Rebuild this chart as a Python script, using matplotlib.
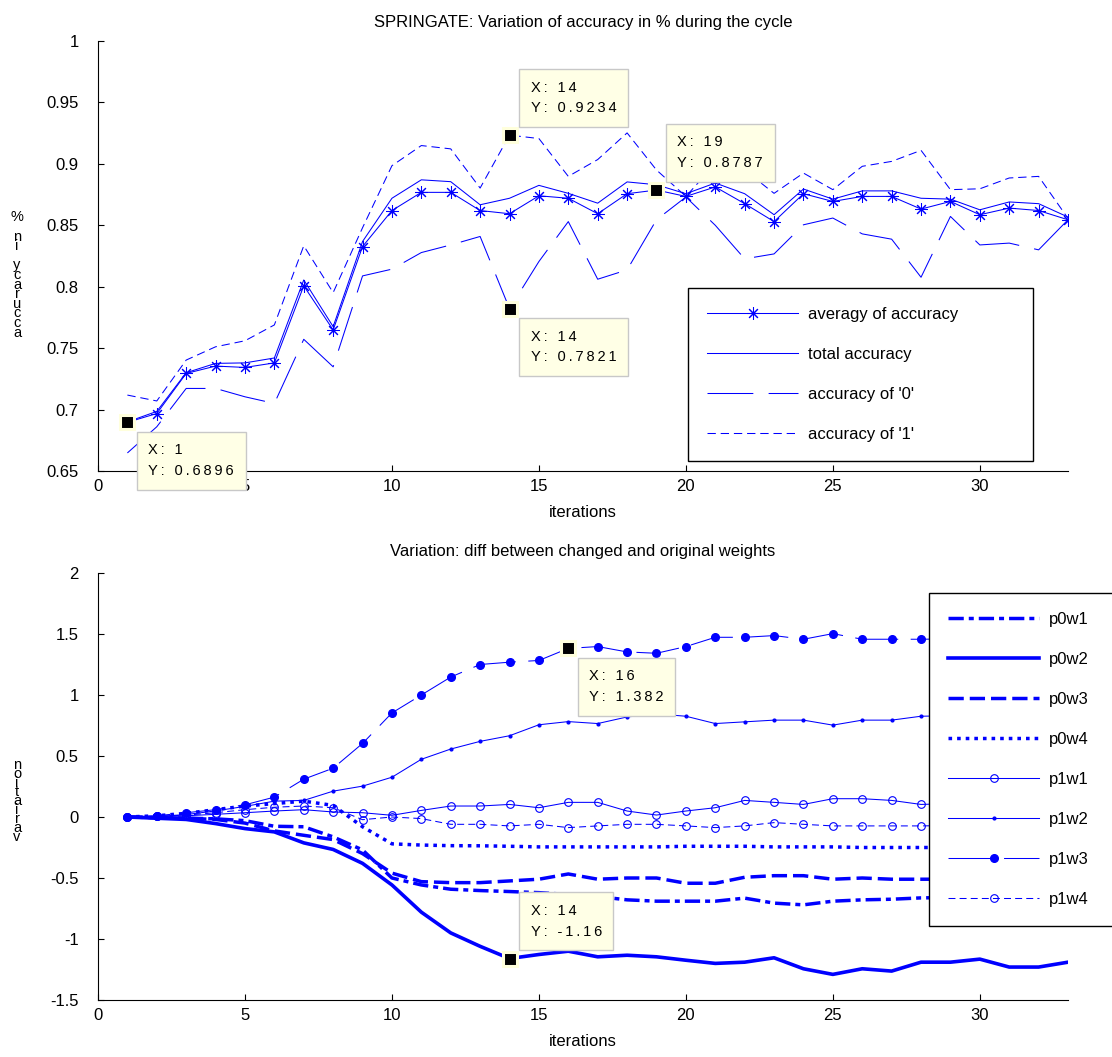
import matplotlib
matplotlib.use("Agg")
import matplotlib.pyplot as plt
import numpy as np

plt.rcParams['font.family'] = ['Liberation Sans', 'DejaVu Sans']
plt.rcParams['lines.scale_dashes'] = False

iters = np.arange(1, 34)

# top panel: accuracy per iteration
avg_acc = [0.6896, 0.6968, 0.7294, 0.7354, 0.7343, 0.7380, 0.8007, 0.7648, 0.8327, 0.8620,
           0.8768, 0.8768, 0.8620, 0.8594, 0.8740, 0.8720, 0.8594, 0.8757, 0.8787, 0.8735,
           0.8812, 0.8676, 0.8530, 0.8757, 0.8694, 0.8735, 0.8735, 0.8632, 0.8694, 0.8586,
           0.8640, 0.8620, 0.8545]
total_acc = [0.6900, 0.6985, 0.7300, 0.7376, 0.7380, 0.7420, 0.8055, 0.7675, 0.8368, 0.8720,
             0.8870, 0.8855, 0.8667, 0.8720, 0.8825, 0.8760, 0.8680, 0.8853, 0.8830, 0.8757,
             0.8844, 0.8757, 0.8586, 0.8795, 0.8713, 0.8780, 0.8780, 0.8720, 0.8713, 0.8626,
             0.8690, 0.8676, 0.8567]
acc_0 = [0.6647, 0.6860, 0.7172, 0.7172, 0.7104, 0.7050, 0.7572, 0.7348, 0.8088, 0.8143,
         0.8278, 0.8340, 0.8409, 0.7821, 0.8205, 0.8530, 0.8061, 0.8137, 0.8545, 0.8730,
         0.8500, 0.8227, 0.8267, 0.8504, 0.8559, 0.8430, 0.8387, 0.8077, 0.8572, 0.8340,
         0.8355, 0.8300, 0.8545]
acc_1 = [0.7118, 0.7070, 0.7403, 0.7511, 0.7560, 0.7689, 0.8333, 0.7952, 0.8480, 0.8985,
         0.9149, 0.9122, 0.8803, 0.9234, 0.9206, 0.8898, 0.9035, 0.9252, 0.8950, 0.8735,
         0.9000, 0.8950, 0.8760, 0.8925, 0.8790, 0.8980, 0.9020, 0.9110, 0.8790, 0.8797,
         0.8885, 0.8898, 0.8556]

# bottom panel: weight differences
p0w1 = [0, -0.005, -0.01, -0.015, -0.03, -0.076, -0.08, -0.163, -0.27, -0.50, -0.557, -0.592,
        -0.603, -0.611, -0.62, -0.635, -0.652, -0.679, -0.69, -0.69, -0.69, -0.665, -0.706,
        -0.72, -0.69, -0.679, -0.674, -0.663, -0.66, -0.67, -0.66, -0.66, -0.66]
p0w2 = [0, -0.01, -0.02, -0.054, -0.095, -0.122, -0.212, -0.266, -0.38, -0.557, -0.78, -0.95,
        -1.06, -1.16, -1.127, -1.10, -1.146, -1.133, -1.146, -1.174, -1.20, -1.19, -1.154,
        -1.244, -1.29, -1.244, -1.263, -1.19, -1.19, -1.165, -1.23, -1.23, -1.19]
p0w3 = [0, -0.005, -0.01, -0.02, -0.05, -0.114, -0.15, -0.185, -0.30, -0.46, -0.53, -0.538,
        -0.538, -0.524, -0.51, -0.467, -0.51, -0.50, -0.50, -0.543, -0.543, -0.494, -0.481,
        -0.481, -0.51, -0.50, -0.51, -0.51, -0.51, -0.50, -0.51, -0.50, -0.51]
p0w4 = [0, 0.01, 0.03, 0.06, 0.09, 0.11, 0.13, 0.095, -0.08, -0.22, -0.23, -0.235, -0.236,
        -0.24, -0.245, -0.245, -0.245, -0.245, -0.245, -0.24, -0.24, -0.24, -0.245, -0.245,
        -0.245, -0.25, -0.25, -0.25, -0.25, -0.25, -0.25, -0.25, -0.25]
p1w1 = [0, 0.005, 0.01, 0.022, 0.035, 0.049, 0.06, 0.041, 0.035, 0.014, 0.054, 0.09, 0.09,
        0.103, 0.076, 0.12, 0.12, 0.049, 0.016, 0.049, 0.076, 0.136, 0.12, 0.103, 0.15, 0.15,
        0.136, 0.103, 0.11, 0.10, 0.12, 0.11, 0.10]
p1w2 = [0, 0.005, 0.02, 0.05, 0.087, 0.13, 0.136, 0.212, 0.253, 0.326, 0.473, 0.557, 0.62,
        0.666, 0.756, 0.782, 0.766, 0.82, 0.845, 0.826, 0.766, 0.78, 0.794, 0.794, 0.753,
        0.794, 0.794, 0.826, 0.83, 0.82, 0.84, 0.83, 0.84]
p1w3 = [0, 0.01, 0.035, 0.06, 0.10, 0.163, 0.31, 0.40, 0.603, 0.853, 1.00, 1.147, 1.25, 1.269,
        1.283, 1.382, 1.397, 1.353, 1.342, 1.397, 1.473, 1.473, 1.487, 1.457, 1.503, 1.457,
        1.457, 1.457, 1.46, 1.47, 1.46, 1.48, 1.47]
p1w4 = [0, 0.005, 0.015, 0.035, 0.06, 0.08, 0.09, 0.076, -0.022, 0.0, -0.013, -0.06, -0.06,
        -0.073, -0.06, -0.087, -0.073, -0.06, -0.06, -0.073, -0.087, -0.073, -0.046, -0.06,
        -0.073, -0.073, -0.073, -0.073, -0.07, -0.06, -0.07, -0.07, -0.06]

# data tips: (x, y, text placed below?)
top_tips = [(1, 0.6896, True), (14, 0.9234, False), (14, 0.7821, True), (19, 0.8787, False)]
bottom_tips = [(16, 1.382, True), (14, -1.16, False)]

blue = '#0000ff'
W, H = 1112, 1057
fig = plt.figure(figsize=(W / 100, H / 100), dpi=100)


def px_axes(l, t, r, b):
    return fig.add_axes([l / W, 1 - b / H, (r - l) / W, (b - t) / H])


def style(ax):
    for s in ('top', 'right'):
        ax.spines[s].set_visible(False)
    for s in ('left', 'bottom'):
        ax.spines[s].set_linewidth(0.8)
    ax.tick_params(direction='in', length=4.5, width=0.8, labelsize=12)
    ax.tick_params(axis='y', pad=14)
    ax.tick_params(axis='x', pad=6)
    ax.yaxis.set_major_formatter(matplotlib.ticker.FormatStrFormatter('%g'))


def spaced(s):
    return '\u2009'.join(s)


def add_tip(ax, x, y, below):
    ax.plot([x], [y], 's', ms=10.5, mfc='black', mec='#ffffdc', mew=2.2, zorder=6)
    txt = spaced('X: %d' % x) + '\n' + spaced('Y: %g' % y)
    if below:
        off, va = (21, -21), 'top'
    else:
        off, va = (21, 20), 'bottom'
    ax.annotate(txt, xy=(x, y), xytext=off, textcoords='offset pixels',
                ha='left', va=va, fontsize=10.5, linespacing=1.6, zorder=7,
                bbox=dict(boxstyle='square,pad=0.8', fc='#ffffe6', ec='#c8c8c8', lw=1))


def make_legend(ax, handles, labels, box):
    l, t, r, b = box
    leg = ax.legend(handles, labels, loc='upper left', mode='expand', numpoints=1,
                    bbox_to_anchor=(l / W, 1 - b / H, (r - l) / W, (b - t) / H),
                    bbox_transform=fig.transFigure, borderaxespad=0, fontsize=12,
                    handlelength=5.45, handletextpad=0.62, labelspacing=1.5, borderpad=1.15,
                    fancybox=False, framealpha=1, edgecolor='black')
    leg.get_frame().set_linewidth(1.0)
    leg.set_zorder(8)
    return leg


# ---- top axes
ax1 = px_axes(98, 41, 1068, 471)
l1, = ax1.plot(iters, avg_acc, color=blue, lw=0.75, marker=(8, 2, 0), ms=9, mew=0.75)
l2, = ax1.plot(iters, total_acc, color=blue, lw=0.75)
l3, = ax1.plot(iters, acc_0, color=blue, lw=0.75, dashes=(33, 11))
l4, = ax1.plot(iters, acc_1, color=blue, lw=0.75, dashes=(6, 3.5))
ax1.set_xlim(0, 33)
ax1.set_ylim(0.65, 1)
ax1.set_xticks([0, 5, 10, 15, 20, 25, 30])
ax1.set_yticks(np.arange(0.65, 1.001, 0.05))
style(ax1)
ax1.set_title('SPRINGATE: Variation of accuracy in % during the cycle', fontsize=12, pad=10)
ax1.set_xlabel('iterations', fontsize=12, labelpad=8)
for x, y, below in top_tips:
    add_tip(ax1, x, y, below)
make_legend(ax1, [l1, l2, l3, l4],
            ['averagy of accuracy', 'total accuracy', "accuracy of '0'", "accuracy of '1'"],
            (688, 288, 1033, 457))

# ---- bottom axes
ax2 = px_axes(98, 573, 1068, 1000)
h = []
h += ax2.plot(iters, p0w1, color=blue, lw=2.5, dashes=(11, 3.6, 3.6, 3.6))
h += ax2.plot(iters, p0w2, color=blue, lw=2.6)
h += ax2.plot(iters, p0w3, color=blue, lw=2.5, dashes=(11, 4.3))
h += ax2.plot(iters, p0w4, color=blue, lw=2.5, dashes=(2.6, 3.6))
h += ax2.plot(iters, p1w1, color=blue, lw=0.75, marker='o', ms=5.5, mfc='none', mew=0.8)
h += ax2.plot(iters, p1w2, color=blue, lw=0.75, marker='.', ms=4)
h += ax2.plot(iters, p1w3, color=blue, lw=0.75, dashes=(31, 9), marker='o', ms=5.5)
h += ax2.plot(iters, p1w4, color=blue, lw=0.75, dashes=(5, 3), marker='o', ms=5.5,
              mfc='none', mew=0.8)
ax2.set_xlim(0, 33)
ax2.set_ylim(-1.5, 2)
ax2.set_xticks([0, 5, 10, 15, 20, 25, 30])
ax2.set_yticks(np.arange(-1.5, 2.01, 0.5))
style(ax2)
ax2.set_title('Variation: diff between changed and original weights', fontsize=12, pad=12)
ax2.set_xlabel('iterations', fontsize=12, labelpad=8)
for x, y, below in bottom_tips:
    add_tip(ax2, x, y, below)
make_legend(ax2, h, ['p0w1', 'p0w2', 'p0w3', 'p0w4', 'p1w1', 'p1w2', 'p1w3', 'p1w4'],
            (929, 593, 1160, 921))

# y labels (drawn as stacked characters like the original)
fig.text(17 / W, 1 - 275 / H, '\n'.join(reversed('accuracy in %')), fontsize=10.5,
         linespacing=0.6, ha='center', va='center')
fig.text(17 / W, 1 - 801 / H, '\n'.join(reversed('variation')), fontsize=10.5,
         linespacing=0.55, ha='center', va='center')

fig.savefig('out.png', dpi=100)
